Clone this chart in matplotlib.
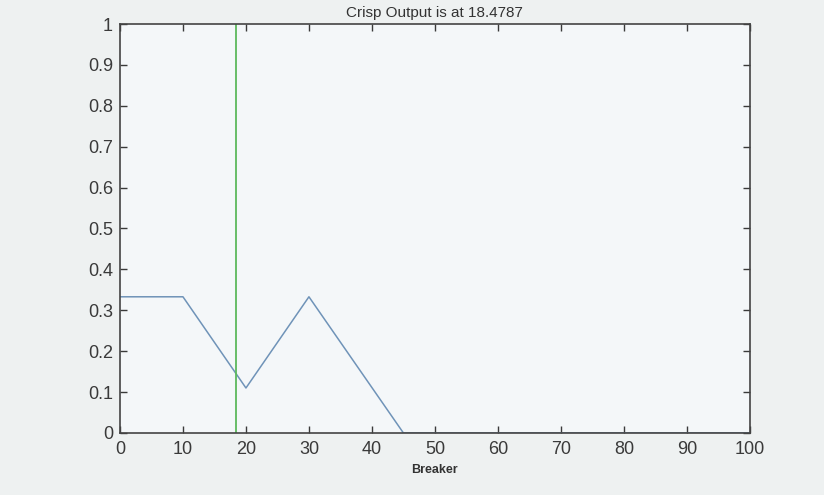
import matplotlib.pyplot as plt

# membership curve of the aggregated output (Breaker)
breaker_x = [0, 10, 20, 30, 45, 100]
membership = [0.333, 0.333, 0.11, 0.333, 0.0, 0.0]
crisp_output = 18.4787

x_ticks = [0, 10, 20, 30, 40, 50, 60, 70, 80, 90, 100]
y_ticks = [0, 0.1, 0.2, 0.3, 0.4, 0.5, 0.6, 0.7, 0.8, 0.9, 1]
y_labels = ['0', '0.1', '0.2', '0.3', '0.4', '0.5', '0.6', '0.7', '0.8', '0.9', '1']

plt.rcParams['font.family'] = ['Liberation Sans', 'DejaVu Sans']

fig = plt.figure(figsize=(8.24, 4.95), dpi=100, facecolor='#eef1f1')
ax = fig.add_axes([0.1456, 0.1253, 0.7644, 0.8262])
ax.set_facecolor('#f4f7f9')

ax.plot(breaker_x, membership, color='#6f93b8', linewidth=1.1)
ax.axvline(crisp_output, color='#5cb85c', linewidth=1.3)

ax.set_xlim(0, 100)
ax.set_ylim(0, 1)
ax.set_xticks(x_ticks)
ax.set_yticks(y_ticks)
ax.set_xticklabels([str(v) for v in x_ticks])
ax.set_yticklabels(y_labels)
ax.tick_params(direction='in', top=True, right=True, length=5, width=1,
               labelsize=13, colors='#3a3a3a', labelcolor='#3a3a3a')
ax.tick_params(axis='x', pad=6)
ax.tick_params(axis='y', pad=5)
for s in ax.spines.values():
    s.set_color('#444444')
    s.set_linewidth(1.2)

ax.set_title('Crisp Output is at 18.4787', fontsize=11, color='#333333', pad=5)
ax.set_xlabel('Breaker', fontsize=9, fontweight='bold', color='#333333', labelpad=4)

fig.savefig('out.png', dpi=100, facecolor=fig.get_facecolor())
